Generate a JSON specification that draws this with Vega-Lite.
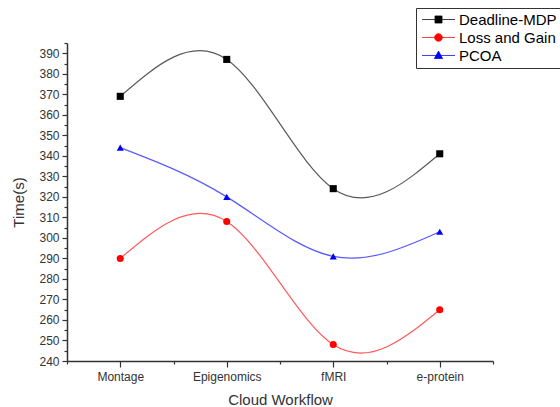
{
  "$schema": "https://vega.github.io/schema/vega-lite/v6.json",
  "width": 426,
  "height": 318,
  "autosize": {"type": "none"},
  "padding": {"left": 67, "top": 43, "right": 67, "bottom": 46},
  "background": "white",
  "config": {
    "view": {"stroke": null},
    "font": "Liberation Sans",
    "axis": {"grid": false, "domainColor": "#333", "domainWidth": 1.5, "tickColor": "#333", "tickWidth": 1.2, "labelColor": "#333", "labelFontSize": 12, "titleColor": "#333", "titleFontSize": 15, "titleFontWeight": "normal", "labelFont": "Liberation Sans", "titleFont": "Liberation Sans"}
  },
  "data": {"values": [
    {"x": 1, "workflow": "Montage", "series": "Deadline-MDP", "time": 369},
    {"x": 2, "workflow": "Epigenomics", "series": "Deadline-MDP", "time": 387},
    {"x": 3, "workflow": "fMRI", "series": "Deadline-MDP", "time": 324},
    {"x": 4, "workflow": "e-protein", "series": "Deadline-MDP", "time": 341},
    {"x": 1, "workflow": "Montage", "series": "Loss and Gain", "time": 290},
    {"x": 2, "workflow": "Epigenomics", "series": "Loss and Gain", "time": 308},
    {"x": 3, "workflow": "fMRI", "series": "Loss and Gain", "time": 248},
    {"x": 4, "workflow": "e-protein", "series": "Loss and Gain", "time": 265},
    {"x": 1, "workflow": "Montage", "series": "PCOA", "time": 344},
    {"x": 2, "workflow": "Epigenomics", "series": "PCOA", "time": 320},
    {"x": 3, "workflow": "fMRI", "series": "PCOA", "time": 291},
    {"x": 4, "workflow": "e-protein", "series": "PCOA", "time": 303}
  ]},
  "encoding": {
    "x": {"field": "x", "type": "quantitative", "scale": {"domain": [0.5, 4.5], "nice": false, "zero": false},
      "axis": {"title": "Cloud Workflow", "values": [0.5, 1, 1.5, 2, 2.5, 3, 3.5, 4, 4.5],
        "labelExpr": "datum.value == 1 ? 'Montage' : datum.value == 2 ? 'Epigenomics' : datum.value == 3 ? 'fMRI' : datum.value == 4 ? 'e-protein' : ''",
        "tickSize": {"condition": {"test": "datum.value % 1 === 0", "value": 6}, "value": 3},
        "labelPadding": 4, "titlePadding": 10, "labelFlush": false}},
    "y": {"field": "time", "type": "quantitative", "scale": {"domain": [240, 395], "nice": false, "zero": false},
      "axis": {"title": "Time(s)", "values": [240, 245, 250, 255, 260, 265, 270, 275, 280, 285, 290, 295, 300, 305, 310, 315, 320, 325, 330, 335, 340, 345, 350, 355, 360, 365, 370, 375, 380, 385, 390, 395],
        "labelExpr": "datum.value % 10 === 0 ? datum.label : ''",
        "tickSize": {"condition": {"test": "datum.value % 10 === 0", "value": 5}, "value": 3},
        "labelPadding": 3, "titlePadding": 12}},
    "color": {"field": "series", "type": "nominal",
      "scale": {"domain": ["Deadline-MDP", "Loss and Gain", "PCOA"], "range": ["#000000", "#ff0000", "#0000ff"]}}
  },
  "layer": [
    {
      "mark": {"type": "line", "interpolate": "natural", "strokeWidth": 1.2, "strokeOpacity": 0.65},
      "encoding": {
        "color": {"field": "series", "type": "nominal",
          "legend": {"title": null, "orient": "none", "legendX": 349, "legendY": -35,
            "strokeColor": "#333", "fillColor": "white", "padding": 4, "cornerRadius": 0,
            "labelFontSize": 15, "labelColor": "#000", "labelFont": "Liberation Sans", "labelOffset": 24,
            "symbolSize": 121, "rowPadding": 2, "symbolStrokeWidth": 1, "symbolOpacity": 1,
            "symbolType": {"expr": "datum.value === 'Deadline-MDP' ? 'M-1,0H5M1.36,-0.64H2.64V0.64H1.36Z' : datum.value === 'Loss and Gain' ? 'M-1,0H5M2.7,0A0.7,0.7 0 1,1 1.3,0A0.7,0.7 0 1,1 2.7,0Z' : 'M-1,0H5M2,-0.8L2.75,0.55H1.25Z'"},
            "encode": {"symbols": {"update": {
              "fill": {"scale": "color", "field": "value"},
              "opacity": {"value": 1},
              "fillOpacity": {"value": 1},
              "strokeOpacity": {"value": 0.75}
            }}}}}
      }
    },
    {
      "transform": [{"filter": "datum.series === 'Deadline-MDP'"}],
      "mark": {"type": "point", "filled": true, "opacity": 1, "size": 50, "shape": "square"}
    },
    {
      "transform": [{"filter": "datum.series === 'Loss and Gain'"}],
      "mark": {"type": "point", "filled": true, "opacity": 1, "size": 50, "shape": "circle"}
    },
    {
      "transform": [{"filter": "datum.series === 'PCOA'"}],
      "mark": {"type": "point", "filled": true, "opacity": 1, "size": 50, "shape": "triangle-up"}
    }
  ]
}
